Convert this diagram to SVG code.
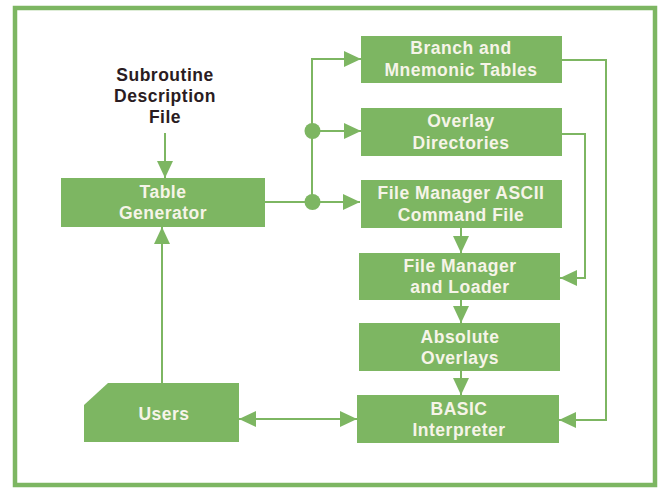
<svg xmlns="http://www.w3.org/2000/svg" width="660" height="489" viewBox="0 0 660 489">
<defs>
<style>
.box{fill:#7db662;}
.lbl{font-family:"Liberation Sans",Arial,sans-serif;font-weight:bold;font-size:17.5px;letter-spacing:0.5px;fill:#f6f4e8;text-anchor:middle;}
.dark{font-family:"Liberation Sans",Arial,sans-serif;font-weight:bold;font-size:17.5px;letter-spacing:0.5px;fill:#2a1c22;text-anchor:middle;}
.ln{fill:none;stroke:#7db662;stroke-width:2;}
.ah{fill:#7db662;}
</style>
<marker id="arr" viewBox="0 0 17 16" refX="17" refY="8" markerWidth="17" markerHeight="16" markerUnits="userSpaceOnUse" orient="auto-start-reverse">
<path d="M0,0 L17,8 L0,16 Z" class="ah"/>
</marker>
</defs>
<rect width="660" height="489" fill="#ffffff"/>
<rect x="15" y="8" width="640" height="477" fill="none" stroke="#7db662" stroke-width="4.5"/>

<g id="connectors">
<path class="ln" d="M165,133 V178" marker-end="url(#arr)"/>
<path class="ln" d="M265,202 H360" marker-end="url(#arr)"/>
<path class="ln" d="M312,202 V59 H361" marker-end="url(#arr)"/>
<path class="ln" d="M312,131 H361" marker-end="url(#arr)"/>
<circle cx="312.5" cy="131" r="8" class="ah"/>
<circle cx="312.5" cy="202" r="8" class="ah"/>
<path class="ln" d="M562,60 H606 V420 H559" marker-end="url(#arr)"/>
<path class="ln" d="M562,134 H585 V278 H560" marker-end="url(#arr)"/>
<path class="ln" d="M461,228 V253" marker-end="url(#arr)"/>
<path class="ln" d="M461,300 V323" marker-end="url(#arr)"/>
<path class="ln" d="M461,371 V395" marker-end="url(#arr)"/>
<path class="ln" d="M162,383 V227" marker-end="url(#arr)"/>
<path class="ln" d="M239,419 H357" marker-start="url(#arr)" marker-end="url(#arr)"/>
</g>

<g id="subroutine">
<text class="dark" x="165" y="81">Subroutine</text>
<text class="dark" x="165" y="102">Description</text>
<text class="dark" x="165" y="123">File</text>
</g>

<g id="tablegen">
<rect class="box" x="61" y="178" width="204" height="49"/>
<text class="lbl" x="163" y="198">Table</text>
<text class="lbl" x="163" y="219">Generator</text>
</g>

<g id="branch">
<rect class="box" x="361" y="36" width="201" height="47"/>
<text class="lbl" x="461" y="54">Branch and</text>
<text class="lbl" x="461" y="76">Mnemonic Tables</text>
</g>

<g id="overlay">
<rect class="box" x="361" y="108" width="201" height="48"/>
<text class="lbl" x="461" y="127">Overlay</text>
<text class="lbl" x="461" y="149">Directories</text>
</g>

<g id="ascii">
<rect class="box" x="361" y="180" width="201" height="48"/>
<text class="lbl" x="461" y="199">File Manager ASCII</text>
<text class="lbl" x="461" y="221">Command File</text>
</g>

<g id="loader">
<rect class="box" x="359" y="253" width="201" height="47"/>
<text class="lbl" x="460" y="272">File Manager</text>
<text class="lbl" x="460" y="293">and Loader</text>
</g>

<g id="absolute">
<rect class="box" x="359" y="323" width="201" height="48"/>
<text class="lbl" x="460" y="343">Absolute</text>
<text class="lbl" x="460" y="364">Overlays</text>
</g>

<g id="basic">
<rect class="box" x="357" y="395" width="202" height="48"/>
<text class="lbl" x="459" y="415">BASIC</text>
<text class="lbl" x="459" y="436">Interpreter</text>
</g>

<g id="users">
<polygon class="box" points="84,405 108,383 239,383 239,442 84,442"/>
<text class="lbl" x="164" y="420">Users</text>
</g>
</svg>
